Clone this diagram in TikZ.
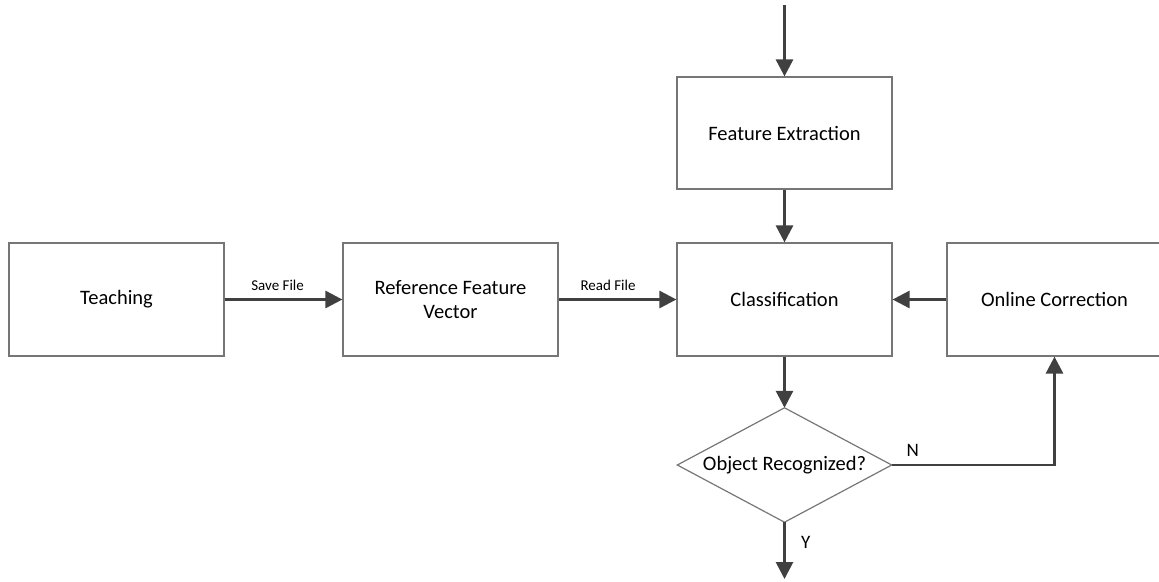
\documentclass[tikz,border=0pt]{standalone}
\usepackage{fontspec}
\setmainfont{Carlito}
\usetikzlibrary{arrows.meta}
\definecolor{boxline}{HTML}{767676}
\definecolor{arrowc}{HTML}{404040}
\tikzset{
  block/.style={draw=boxline, line width=1.2pt, rectangle, minimum width=215pt, minimum height=113pt, inner sep=0pt, font=\fontsize{20.5}{24}\selectfont, align=center, fill=white},
  decision/.style={rectangle, minimum width=214pt, minimum height=114pt, inner sep=0pt, font=\fontsize{20.5}{24}\selectfont},
  dshape/.style={draw=boxline, line width=1.2pt},
  flow/.style={draw=arrowc, line width=2.8pt, -{Triangle[length=17pt,width=17pt]}},
  lbl/.style={font=\fontsize{15}{18}\selectfont},
  yn/.style={font=\fontsize{19}{22}\selectfont}
}
\begin{document}
\begin{tikzpicture}[x=1pt,y=-1pt]
\useasboundingbox (0,0) rectangle (1159,581);
\clip (0,0) rectangle (1159,581);
\node[block] (teach) at (116.5,299.5) {Teaching};
\node[block] (ref) at (450.5,299.5) {Reference Feature\\Vector};
\node[block] (cls) at (784.5,299.5) {Classification};
\node[block, minimum height=112pt] (fe) at (784.5,133) {Feature Extraction};
\node[block] (oc) at (1054.5,299.5) {Online Correction};
\node[decision] (dia) at (784.5,465) {Object Recognized?};
\draw[dshape] (dia.north) -- (dia.east) -- (dia.south) -- (dia.west) -- cycle;
\coordinate (top) at (784.5,5);
\coordinate (out) at (784.5,579);
\draw[flow] (top) -- (fe.north);
\draw[flow] (fe.south) -- (cls.north);
\draw[flow] (teach.east) -- node[lbl, above=4pt, pos=0.45] (savef) {Save File} (ref.west);
\draw[flow] (ref.east) -- node[lbl, above=4pt, pos=0.42] (readf) {Read File} (cls.west);
\draw[flow] (oc.west) -- (cls.east);
\draw[flow] (cls.south) -- (dia.north);
\draw[flow] (dia.east) -| node[yn, pos=0.065, above=4pt] (nlab) {N} (oc.south);
\draw[flow] (dia.south) -- node[yn, pos=0.35, right=12pt] (ylab) {Y} (out);
\end{tikzpicture}
\end{document}
